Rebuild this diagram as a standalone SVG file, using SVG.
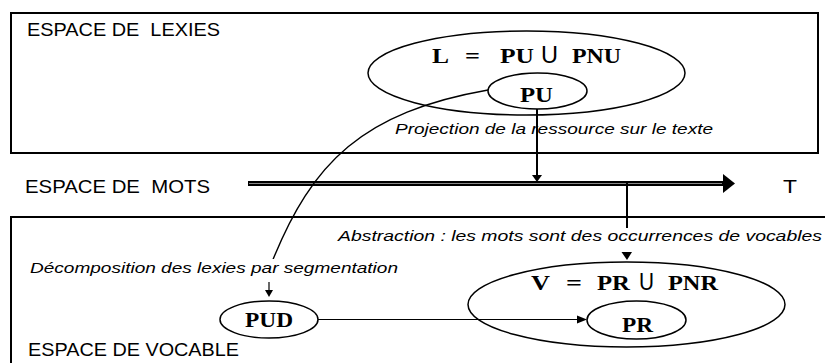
<svg xmlns="http://www.w3.org/2000/svg" width="825" height="363" viewBox="0 0 825 363">
<defs>
<style>
.lbl{font-family:"Liberation Sans",Arial,sans-serif;font-size:18px;fill:#000}
.it{font-family:"Liberation Sans",Arial,sans-serif;font-size:14px;font-style:italic;fill:#000}
.mono{font-family:"Liberation Serif","Times New Roman",serif;font-size:22px;font-weight:bold;fill:#000}
.uni{font-family:"Liberation Sans",Arial,sans-serif;font-size:24px;fill:#000}
.box{fill:none;stroke:#000;stroke-width:2}
.ell{fill:none;stroke:#000;stroke-width:1.5}
.ln{fill:none;stroke:#000}
.ah{fill:#000;stroke:none}
</style>
</defs>
<rect width="825" height="363" fill="#fff"/>

<g id="espace-lexies">
<rect class="box" x="11" y="13" width="807" height="140"/>
<text class="lbl" x="27" y="36" textLength="193" lengthAdjust="spacingAndGlyphs" font-size="16.5">ESPACE DE&#160; LEXIES</text>
</g>

<g id="espace-vocable">
<path class="box" d="M826,217 H11 V364"/>
<text class="lbl" x="28" y="356" textLength="211" lengthAdjust="spacingAndGlyphs">ESPACE DE VOCABLE</text>
</g>

<g id="node-L">
<ellipse class="ell" cx="526.5" cy="73" rx="158.5" ry="42"/>
<text class="mono" x="432" y="63" textLength="17" lengthAdjust="spacingAndGlyphs">L</text>
<text class="mono" x="465" y="63" textLength="15" lengthAdjust="spacingAndGlyphs">=</text>
<text class="mono" x="500" y="63" textLength="34" lengthAdjust="spacingAndGlyphs">PU</text>
<text class="uni" x="541" y="63" textLength="17" lengthAdjust="spacingAndGlyphs">U</text>
<text class="mono" x="572" y="63" textLength="49" lengthAdjust="spacingAndGlyphs">PNU</text>
</g>

<g id="node-PU">
<ellipse class="ell" cx="537.5" cy="91" rx="49.5" ry="18"/>
<text class="mono" x="520" y="102" textLength="33" lengthAdjust="spacingAndGlyphs" font-size="23">PU</text>
</g>

<g id="node-V">
<ellipse class="ell" cx="626.5" cy="304.5" rx="158.5" ry="42.5"/>
<text class="mono" x="531" y="290" textLength="19" lengthAdjust="spacingAndGlyphs">V</text>
<text class="mono" x="566" y="290" textLength="16" lengthAdjust="spacingAndGlyphs">=</text>
<text class="mono" x="597" y="290" textLength="33" lengthAdjust="spacingAndGlyphs">PR</text>
<text class="uni" x="639" y="290" textLength="15" lengthAdjust="spacingAndGlyphs">U</text>
<text class="mono" x="668" y="290" textLength="50" lengthAdjust="spacingAndGlyphs">PNR</text>
</g>

<g id="node-PR">
<ellipse class="ell" cx="636.5" cy="320" rx="49.5" ry="19"/>
<text class="mono" x="622" y="332" textLength="31" lengthAdjust="spacingAndGlyphs" font-size="23">PR</text>
</g>

<g id="node-PUD">
<ellipse class="ell" cx="269" cy="319.5" rx="49" ry="18.5"/>
<text class="mono" x="245" y="327" textLength="48" lengthAdjust="spacingAndGlyphs" font-size="23">PUD</text>
</g>

<g id="connectors">
<line class="ln" x1="248" y1="183.5" x2="724" y2="183.5" stroke-width="5"/>
<line x1="249" y1="183.5" x2="722" y2="183.5" stroke="#888" stroke-width="1"/>
<polygon class="ah" points="723,174 735,183.5 723,193"/>
<line class="ln" x1="537" y1="109" x2="537" y2="176" stroke-width="2"/>
<polygon class="ah" points="532,175 542,175 537,182"/>
<line class="ln" x1="627" y1="183" x2="627" y2="229" stroke-width="2"/>
<polygon class="ah" points="621.5,252 632,252 627,260"/>
<path class="ln" d="M488,90 C363,112 312,162 272,262" stroke-width="1.4"/>
<line class="ln" x1="269" y1="282" x2="269" y2="291" stroke-width="1.2"/>
<polygon class="ah" points="265,290 273,290 269,297"/>
<line class="ln" x1="318" y1="319.5" x2="578" y2="319.5" stroke-width="1.2"/>
<polygon class="ah" points="577,315.5 587,319.5 577,323.5"/>
</g>

<g id="labels">
<text class="lbl" x="25" y="193" textLength="185" lengthAdjust="spacingAndGlyphs">ESPACE DE&#160; MOTS</text>
<text class="lbl" x="783" y="193" textLength="14" lengthAdjust="spacingAndGlyphs">T</text>
<text class="it" x="395" y="134" textLength="318" lengthAdjust="spacingAndGlyphs">Projection de la ressource sur le texte</text>
<rect x="334" y="228" width="490" height="23" fill="#fff"/>
<text class="it" x="338" y="241" textLength="484" lengthAdjust="spacingAndGlyphs">Abstraction : les mots sont des occurrences de vocables</text>
<rect x="28" y="259" width="373" height="22" fill="#fff"/>
<text class="it" x="30" y="273" textLength="368" lengthAdjust="spacingAndGlyphs">Décomposition des lexies par segmentation</text>
</g>
</svg>
